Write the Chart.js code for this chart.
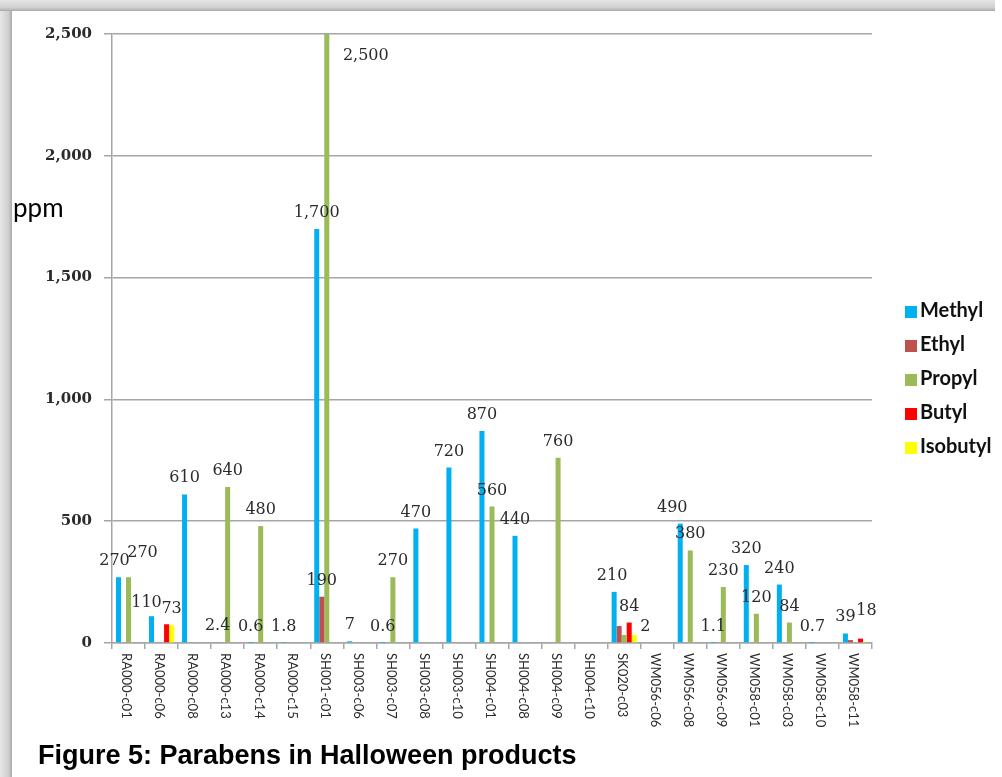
<!DOCTYPE html>
<html>
<head>
<meta charset="utf-8">
<script src="https://cdn.jsdelivr.net/npm/chart.js@4.4.0/dist/chart.umd.min.js"></script>
<style>
  html, body { margin: 0; padding: 0; background: #fff; }
  body { width: 1002px; height: 777px; position: relative; overflow: hidden; }
  #shade-left { position: absolute; left: 0; top: 0; width: 12px; height: 777px;
    background: linear-gradient(to right, #e6e6e6, #cfcfcf 70%, #a9a9a9); }
  #shade-top { position: absolute; left: 0; top: 0; width: 995px; height: 11px;
    background: linear-gradient(to bottom, #e6e6e6, #cfcfcf 70%, #a9a9a9); }
  #chart { position: absolute; left: 0; top: 0; }
  #ppm { position: absolute; left: 13px; top: 194px; font: 26px/26px Lato, sans-serif; color: #000; }
  #title { position: absolute; left: 38px; top: 742px; font: bold 27px/27px "Liberation Sans", Arial, sans-serif; color: #000; white-space: nowrap; }
</style>
</head>
<body>
<div id="shade-left"></div>
<div id="shade-top"></div>
<canvas id="chart" width="1002" height="777"></canvas>
<div id="ppm">ppm</div>
<div id="title">Figure 5: Parabens in Halloween products</div>
<script>
// ── 데이터 ───────────────────────────────────────────
const products = ["RA000-c01","RA000-c06","RA000-c08","RA000-c13","RA000-c14","RA000-c15",
  "SH001-c01","SH003-c06","SH003-c07","SH003-c08","SH003-c10","SH004-c01","SH004-c08",
  "SH004-c09","SH004-c10","SK020-c03","WM056-c06","WM056-c08","WM056-c09","WM058-c01",
  "WM058-c03","WM058-c10","WM058-c11"];

const methyl   = [270,110,610,2.4,0.6,1.8,1700,7,0.6,470,720,870,440,0,0,210,0,490,1.1,320,240,0.7,39];
const ethyl    = [0,0,0,0,0,0,190,0,0,0,0,0,0,0,0,70,0,0,0,0,0,0,12];
const propyl   = [270,0,0,640,480,0,2500,0,270,0,0,560,0,760,0,33,0,380,230,120,84,0,0];
const butyl    = [0,77,0,0,0,0,0,0,0,0,0,0,0,0,0,84,0,0,0,0,0,0,18];
const isobutyl = [0,73,0,0,0,0,0,0,0,0,0,0,0,0,0,33,0,0,0,0,0,0,5];

// 막대 위 숫자 (없는 곳은 null)
const methylLabels   = ["270","110","610","2.4","0.6","1.8","1,700","7","0.6","470","720","870","440",
  null,null,"210",null,"490","1.1","320","240","0.7","39"];
const ethylLabels    = [null,null,null,null,null,null,"190",null,null,null,null,null,null,
  null,null,null,null,null,null,null,null,null,null];
const propylLabels   = ["270",null,null,"640","480",null,"2,500",null,"270",null,null,"560",null,
  "760",null,null,null,"380","230","120","84",null,null];
const butylLabels    = [null,null,null,null,null,null,null,null,null,null,null,null,null,
  null,null,"84",null,null,null,null,null,null,"18"];
const isobutylLabels = [null,"73",null,null,null,null,null,null,null,null,null,null,null,
  null,null,"2",null,null,null,null,null,null,null];

const yTicks = [0, 500, 1000, 1500, 2000, 2500];

// ── 스타일 ───────────────────────────────────────────
const COLORS = { methyl:"#00B0F0", ethyl:"#C0504D", propyl:"#9BBB59", butyl:"#FF0000", isobutyl:"#FFFF00" };
const GRID = "#a6a6a6";
const TEXT = "#2b2b2b";

// 라벨 위치 보정 (dataset:index -> [dx, dy])
const labelNudge = { "0:0":[-4,0], "2:0":[14,-8], "0:1":[-5,3], "2:6":[39,38],
  "0:15":[-2,0], "4:15":[11,8], "0:17":[-8,0], "3:22":[6,-12] };

// ── 플러그인 ─────────────────────────────────────────
const barLabelPlugin = {
  id: "barLabels",
  afterDatasetsDraw(c) {
    const ctx = c.ctx;
    ctx.save();
    ctx.font = "16px 'DejaVu Serif', serif";
    ctx.fillStyle = TEXT;
    ctx.textAlign = "center";
    ctx.textBaseline = "alphabetic";
    c.data.datasets.forEach((ds, di) => {
      const meta = c.getDatasetMeta(di);
      ds.valueLabels.forEach((txt, i) => {
        if (txt == null) return;
        const bar = meta.data[i];
        const n = labelNudge[di + ":" + i] || [0, 0];
        ctx.fillText(txt, bar.x + n[0], bar.y - 12 + n[1]);
      });
    });
    ctx.restore();
  }
};

const xLabelPlugin = {
  id: "xLabels",
  afterDraw(c) {
    const { ctx, chartArea, scales } = c;
    ctx.save();
    ctx.font = "13px Lato, sans-serif";
    ctx.fillStyle = TEXT;
    ctx.textAlign = "left";
    ctx.textBaseline = "middle";
    products.forEach((p, i) => {
      const x = scales.x.getPixelForTick(i) - 2;
      ctx.save();
      ctx.translate(x, chartArea.bottom + 10);
      ctx.rotate(Math.PI / 2);
      ctx.fillText(p, 0, 0);
      ctx.restore();
    });
    ctx.restore();
  }
};

const legendPlugin = {
  id: "sideLegend",
  afterDraw(c) {
    const ctx = c.ctx;
    ctx.save();
    ctx.font = "bold 20px Lato, sans-serif";
    ctx.textBaseline = "alphabetic";
    ctx.textAlign = "left";
    c.data.datasets.forEach((ds, i) => {
      const base = 317 + i * 34;
      ctx.fillStyle = ds.backgroundColor;
      ctx.fillRect(905, base - 11, 12, 12);
      ctx.fillStyle = "#111";
      ctx.fillText(ds.label, 920, base);
    });
    ctx.restore();
  }
};

// ── 차트 ─────────────────────────────────────────────
function makeSet(label, data, color, valueLabels) {
  return { label, data, backgroundColor: color, valueLabels,
    barPercentage: 1.0, categoryPercentage: 0.76, borderWidth: 0 };
}

function draw() {
  new Chart(document.getElementById("chart"), {
    type: "bar",
    data: {
      labels: products,
      datasets: [
        makeSet("Methyl",   methyl,   COLORS.methyl,   methylLabels),
        makeSet("Ethyl",    ethyl,    COLORS.ethyl,    ethylLabels),
        makeSet("Propyl",   propyl,   COLORS.propyl,   propylLabels),
        makeSet("Butyl",    butyl,    COLORS.butyl,    butylLabels),
        makeSet("Isobutyl", isobutyl, COLORS.isobutyl, isobutylLabels),
      ]
    },
    options: {
      responsive: false,
      animation: false,
      devicePixelRatio: 1,
      layout: { padding: { left: 0, top: 34, right: 130, bottom: 0 } },
      plugins: { legend: { display: false }, tooltip: { enabled: false } },
      scales: {
        x: {
          offset: true,
          ticks: { display: false },
          grid: { display: true, drawOnChartArea: false, drawTicks: true, tickLength: 6,
                  offset: true, color: GRID, lineWidth: 1.5 },
          border: { display: true, color: GRID, width: 1.5 },
          afterFit: (s) => { s.height = 134; },
        },
        y: {
          min: 0, max: 2500,
          afterBuildTicks: (axis) => { axis.ticks = yTicks.map(v => ({ value: v })); },
          ticks: {
            padding: 12, color: TEXT,
            font: { family: "'DejaVu Serif', serif", size: 15, weight: "bold" },
            callback: (v) => Number(v).toLocaleString("en-US"),
          },
          grid: { color: GRID, lineWidth: 1.5, tickLength: 8 },
          border: { display: true, color: GRID, width: 1.5 },
          afterFit: (s) => { s.width = 112; },
        }
      }
    },
    plugins: [barLabelPlugin, xLabelPlugin, legendPlugin],
  });
}

Promise.all([
  document.fonts.load("16px 'DejaVu Serif'"),
  document.fonts.load("bold 15px 'DejaVu Serif'"),
  document.fonts.load("13px Lato"),
  document.fonts.load("bold 20px Lato"),
]).then(draw, draw);
</script>
</body>
</html>
